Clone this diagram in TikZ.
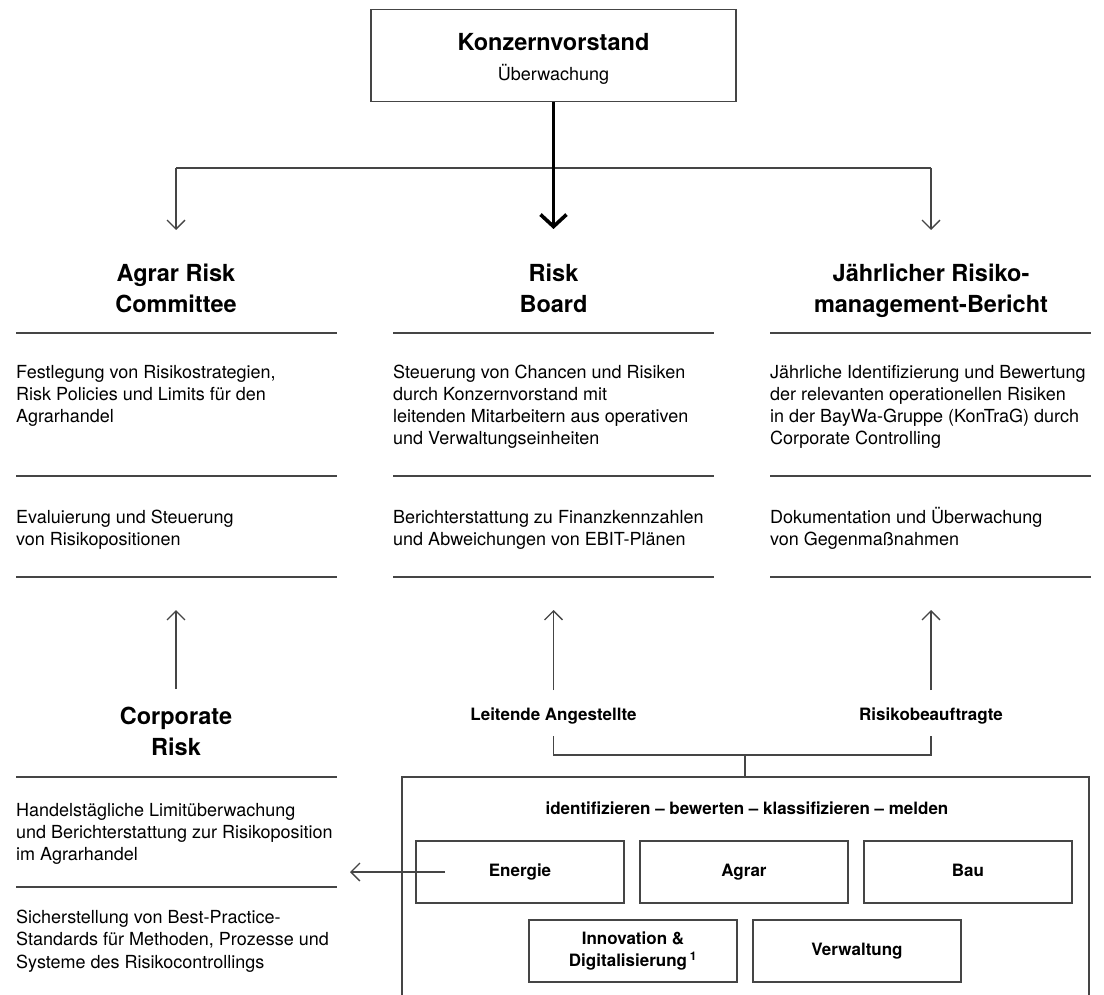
\documentclass[tikz,border=0pt]{standalone}
\usepackage{fontspec}
\setmainfont{TeX Gyre Heros}
\usetikzlibrary{arrows.meta}
\definecolor{lineC}{HTML}{454545}
\begin{document}
\begin{tikzpicture}[x=1pt,y=-1pt,
  ln/.style={draw=lineC, line width=1.3pt},
  arr/.style={ln, -{Straight Barb[length=9pt,width=18pt,line width=1.3pt]}},
  thickarr/.style={draw=black, line width=3.6pt, -{Straight Barb[length=12pt,width=26pt,line width=3.6pt]}},
  body/.style={anchor=base west, align=left, inner sep=0pt, font=\fontsize{18}{22.2}\selectfont},
  ttl/.style={anchor=base, align=center, inner sep=0pt, font=\fontsize{23.5}{31}\selectfont\bfseries},
  lbl/.style={anchor=base, inner sep=0pt, font=\fontsize{17}{20}\selectfont\bfseries},
  unit/.style={draw=lineC, line width=1.3pt, minimum width=208pt, minimum height=62pt, align=center, inner sep=0pt, font=\fontsize{17}{22}\selectfont\bfseries},
  unit1/.style={unit, text height=12.5pt, text depth=3.5pt},
  top/.style={draw=lineC, line width=1.3pt, minimum width=365pt, minimum height=92pt, inner sep=0pt}
]
\useasboundingbox (0,0) rectangle (1104,995);

% top box
\node[top] (kv) at (553.5,55.5) {};
\node[ttl] (kvt) at (553.5,50.5) {Konzernvorstand};
\node[anchor=base, inner sep=0pt, font=\fontsize{18}{20}\selectfont] (kvs) at (553.5,80.5) {Überwachung};

% branches
\coordinate (bl) at (176,168);
\coordinate (br) at (931,168);
\coordinate (tl) at (176,230);
\coordinate (tr) at (931,230);
\coordinate (tc) at (553.5,229);
\draw[ln] (bl) -- (br);
\draw[arr] (bl) -- (tl);
\draw[arr] (br) -- (tr);
\draw[thickarr] (kv.south) -- (tc);

% column titles (base = last line)
\node[ttl] (arc) at (176,312.5) {Agrar Risk\\Committee};
\node[ttl] (rb) at (553.5,312.5) {Risk\\Board};
\node[ttl] (jr) at (931,312.5) {Jährlicher Risiko-\\management-Bericht};

% dividers
\foreach \xa/\xb in {16/337, 393/714, 770/1091}{
  \draw[ln] (\xa,333) -- (\xb,333);
  \draw[ln] (\xa,476) -- (\xb,476);
  \draw[ln] (\xa,577) -- (\xb,577);
}

% body texts (base = last line)
\node[body] (a1) at (16,422.4) {Festlegung von Risikostrategien,\\Risk Policies und Limits für den\\Agrarhandel};
\node[body] (a2) at (16,545.2) {Evaluierung und Steuerung\\von Risikopositionen};
\node[body] (b1) at (393,444.6) {Steuerung von Chancen und Risiken\\durch Konzernvorstand mit\\leitenden Mitarbeitern aus operativen\\und Verwaltungseinheiten};
\node[body] (b2) at (393,545.2) {Berichterstattung zu Finanzkennzahlen\\und Abweichungen von EBIT-Plänen};
\node[body] (c1) at (770,444.6) {Jährliche Identifizierung und Bewertung\\der relevanten operationellen Risiken\\in der BayWa-Gruppe (KonTraG) durch\\Corporate Controlling};
\node[body] (c2) at (770,545.2) {Dokumentation und Überwachung\\von Gegenmaßnahmen};

% corporate risk
\node[ttl] (cr) at (176,755) {Corporate\\Risk};
\draw[ln] (16,777) -- (337,777);
\draw[ln] (16,887) -- (337,887);
\node[body] (cr1) at (16,860.7) {Handelstägliche Limitüberwachung\\und Berichterstattung zur Risikoposition\\im Agrarhandel};
\node[body] (cr2) at (16,968) {Sicherstellung von Best-Practice-\\Standards für Methoden, Prozesse und\\Systeme des Risikocontrollings};

% labels
\node[lbl] (la) at (553.5,720) {Leitende Angestellte};
\node[lbl] (rba) at (931,720) {Risikobeauftragte};

% up arrows
\coordinate (ua1) at (176,689);
\coordinate (ua1e) at (176,610);
\coordinate (ua2) at (553.5,690);
\coordinate (ua2e) at (553.5,610);
\coordinate (ua3) at (931,690);
\coordinate (ua3e) at (931,610);
\draw[arr] (ua1) -- (ua1e);
\draw[arr] (ua2) -- (ua2e);
\draw[arr] (ua3) -- (ua3e);

% bracket
\coordinate (k1) at (553.5,736);
\coordinate (k2) at (931,736);
\coordinate (km) at (745,755);
\coordinate (kb) at (745,777);
\draw[ln] (k1) -- (553.5,755) -- (931,755) -- (k2);
\draw[ln] (km) -- (kb);

% big box (open at bottom)
\coordinate (bbl) at (402,996);
\coordinate (bbr) at (1089,996);
\draw[ln] (bbl) -- (402,777) -- (1089,777) -- (bbr);
\node[lbl] (proc) at (747,814) {identifizieren – bewerten – klassifizieren – melden};

% units
\node[unit1] (en) at (520,872) {Energie};
\node[unit1] (ag) at (744,872) {Agrar};
\node[unit1] (bau) at (968,872) {Bau};
\node[unit] (inn) at (633,951) {Innovation \&\\Digitalisierung\,\textsuperscript{1}};
\node[unit1] (vw) at (857,951) {Verwaltung};

% arrow to corporate risk
\coordinate (es) at (445,872);
\coordinate (ee) at (350,872);
\draw[arr] (es) -- (ee);
\end{tikzpicture}
\end{document}
